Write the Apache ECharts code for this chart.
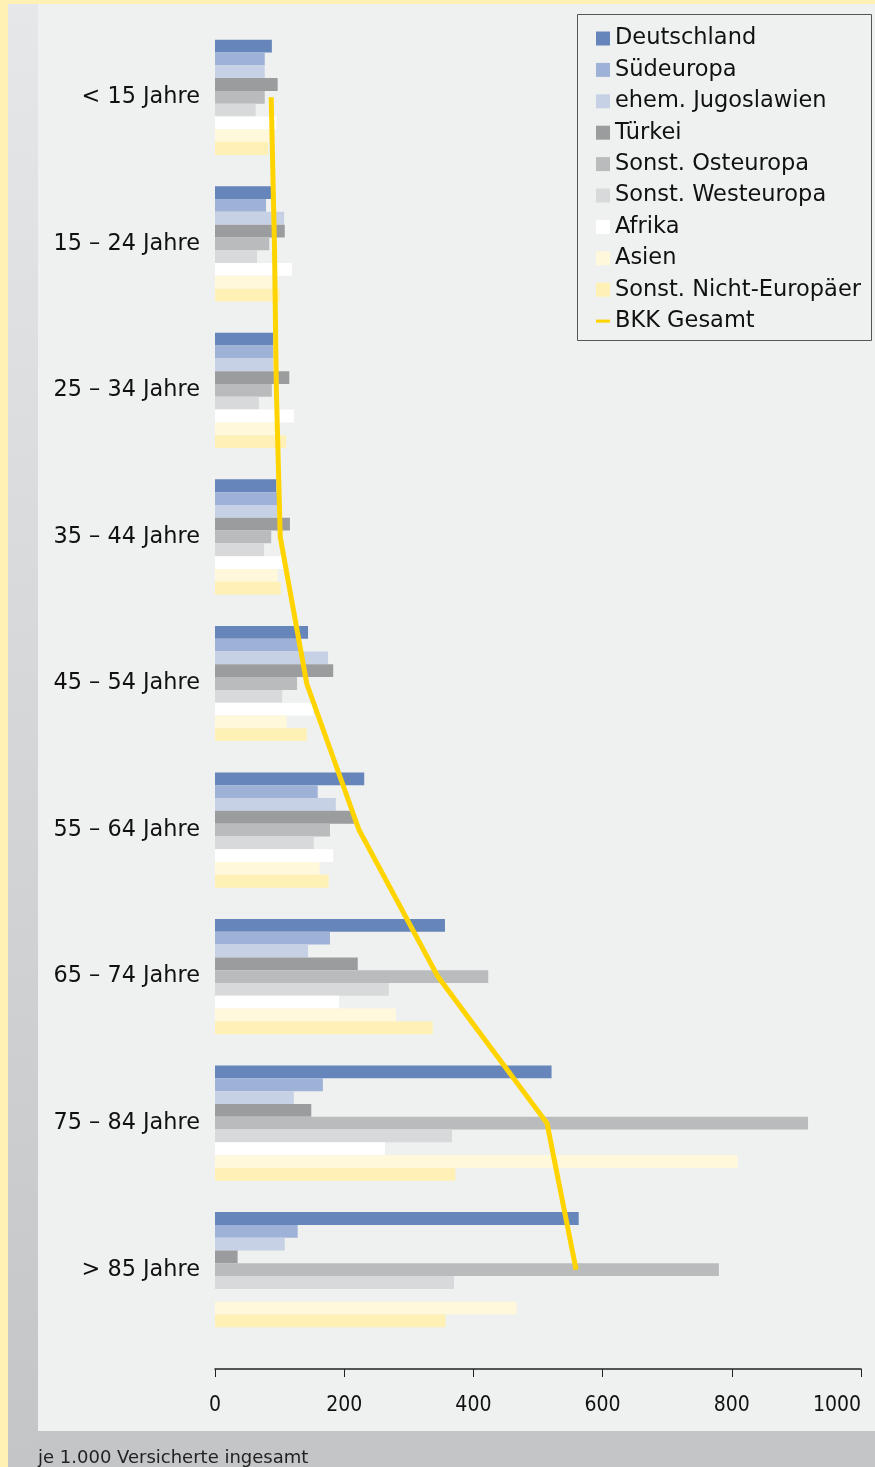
<!DOCTYPE html>
<html>
<head>
<meta charset="utf-8">
<script src="https://cdn.jsdelivr.net/npm/echarts@6/dist/echarts.min.js"></script>
<style>
  html, body { margin: 0; padding: 0; background: #fff0b3; }
  #chart { width: 875px; height: 1467px; }
</style>
</head>
<body>
<div id="chart"></div>
<script>
// Altersgruppen (von oben nach unten)
const categories = ['< 15 Jahre', '15 – 24 Jahre', '25 – 34 Jahre', '35 – 44 Jahre', '45 – 54 Jahre',
                    '55 – 64 Jahre', '65 – 74 Jahre', '75 – 84 Jahre', '> 85 Jahre'];

// Werte je 1.000 Versicherte
const deutschland    = [88, 87, 90, 95, 144, 231, 356, 521, 563];
const suedeuropa     = [77, 79, 90, 96, 132, 159, 178, 167, 128];
const jugoslawien    = [77, 107, 90, 96, 175, 187, 144, 122, 108];
const tuerkei        = [97, 108, 115, 116, 183, 215, 221, 149, 35];
const osteuropa      = [77, 84, 88, 87, 127, 178, 423, 918, 780];
const westeuropa     = [63, 65, 68, 76, 104, 153, 269, 367, 370];
const afrika         = [95, 119, 122, 105, 152, 183, 192, 263, null];
const asien          = [84, 88, 93, 97, 111, 162, 280, 809, 467];
const nichtEuropaeer = [82, 100, 110, 102, 142, 176, 337, 372, 357];
const bkkGesamt      = [87, 92, 95, 101, 142, 223, 345, 514, 559];

const xTicks = [0, 200, 400, 600, 800, 1000];

const barSeries = [
  ['Deutschland', deutschland, '#6685bb'],
  ['Südeuropa', suedeuropa, '#9eb1d6'],
  ['ehem. Jugoslawien', jugoslawien, '#c6d1e5'],
  ['Türkei', tuerkei, '#9b9c9e'],
  ['Sonst. Osteuropa', osteuropa, '#babbbc'],
  ['Sonst. Westeuropa', westeuropa, '#d8d9da'],
  ['Afrika', afrika, '#ffffff'],
  ['Asien', asien, '#fff8da'],
  ['Sonst. Nicht-Europäer', nichtEuropaeer, '#fff1b5']
];

const FONT = '"DejaVu Sans", "Liberation Sans", sans-serif';
const NARROW = '"Liberation Sans Narrow", "DejaVu Sans Condensed", "Roboto Condensed", sans-serif';

const series = barSeries.map(([name, values, color]) => ({
  name: name,
  type: 'bar',
  data: values,
  barWidth: 12.8,
  barGap: '0%',
  itemStyle: { color: color },
  emphasis: { disabled: true },
  z: 2
}));

series.push({
  name: 'BKK Gesamt',
  type: 'line',
  data: bkkGesamt.map((v, i) => [v, categories[i]]),
  symbol: 'none',
  lineStyle: { color: '#ffd400', width: 5, join: 'miter' },
  itemStyle: { color: '#ffd400' },
  emphasis: { disabled: true },
  z: 5
});

const chart = echarts.init(document.getElementById('chart'), null, { renderer: 'canvas' });

chart.setOption({
  animation: false,
  backgroundColor: '#fff0b3',
  textStyle: { fontFamily: FONT },
  graphic: {
    elements: [
      // Zeichenfläche
      { type: 'rect', z: -10, shape: { x: 38, y: 4, width: 837, height: 1427 }, style: { fill: '#eff1f0' } },
      // linker Streifen mit Verlauf
      { type: 'rect', z: -10, shape: { x: 8, y: 4, width: 30, height: 1463 },
        style: { fill: new echarts.graphic.LinearGradient(0, 0, 0, 1, [
          { offset: 0, color: '#e6e7e9' }, { offset: 1, color: '#c4c5c7' }]) } },
      // Fußleiste
      { type: 'rect', z: -10, shape: { x: 38, y: 1431, width: 837, height: 36 }, style: { fill: '#c4c5c7' } },
      { type: 'text', z: 10, left: 38, top: 1449,
        style: { text: 'je 1.000 Versicherte ingesamt', font: '18px ' + FONT, fill: '#222' } },
      // Legendenrahmen
      { type: 'rect', z: 1, shape: { x: 577.5, y: 14.5, width: 294, height: 326 },
        style: { fill: '#eff1f0', stroke: '#555', lineWidth: 1 } }
    ]
  },
  legend: {
    orient: 'vertical',
    left: 596,
    top: 27,
    padding: 0,
    itemWidth: 14,
    itemHeight: 14,
    itemGap: 8.4,
    z: 10,
    selectedMode: false,
    symbolKeepAspect: true,
    textStyle: { fontSize: 22.5, lineHeight: 22, color: '#111', fontFamily: FONT },
    data: barSeries.map(s => ({ name: s[0], icon: 'rect' }))
      .concat([{ name: 'BKK Gesamt', icon: 'path://M0,0 L14,0 L14,3 L0,3 Z', itemStyle: { color: '#ffd400' } }])
  },
  grid: { left: 215, right: 14, top: 24, bottom: 124, containLabel: false },
  xAxis: {
    type: 'value',
    min: xTicks[0],
    max: xTicks[xTicks.length - 1],
    interval: 200,
    offset: 26,
    axisLine: { show: true, lineStyle: { color: '#222', width: 1.5 } },
    axisTick: { show: true, length: 8, lineStyle: { color: '#222', width: 1 } },
    axisLabel: { color: '#111', fontSize: 21, fontFamily: NARROW, margin: 26,
                 alignMaxLabel: 'right', formatter: v => String(v) },
    splitLine: { show: false }
  },
  yAxis: {
    type: 'category',
    data: categories,
    inverse: true,
    axisLine: { show: false },
    axisTick: { show: false },
    axisLabel: { color: '#111', fontSize: 22.4, fontFamily: FONT, margin: 15 }
  },
  series: series
});
</script>
</body>
</html>
